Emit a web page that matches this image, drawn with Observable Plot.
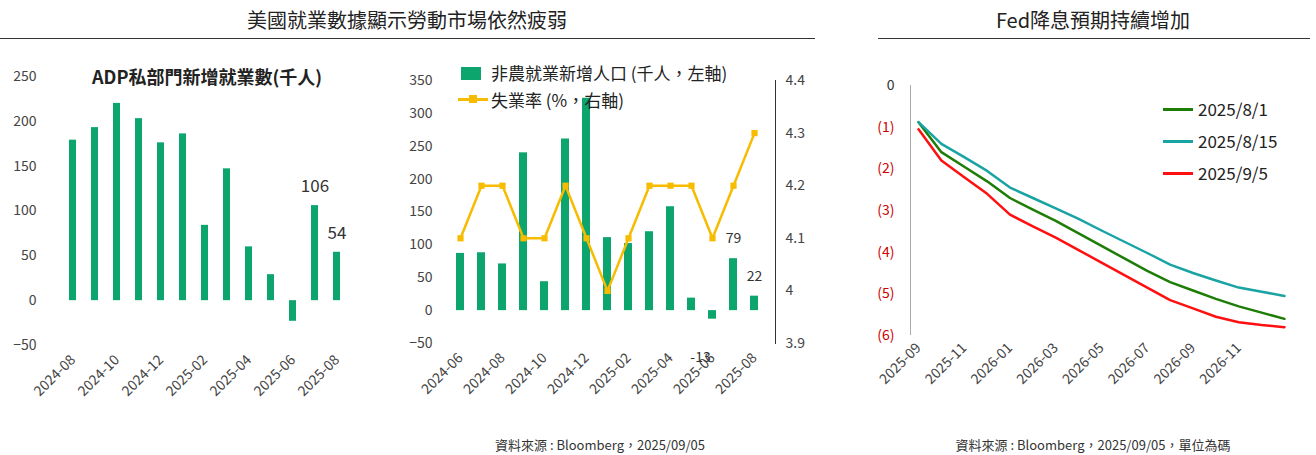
<!DOCTYPE html>
<html><head><meta charset="utf-8">
<script src="https://cdn.jsdelivr.net/npm/d3@7"></script>
<script src="https://cdn.jsdelivr.net/npm/@observablehq/plot@0.6"></script>
<style>
body{margin:0;width:1316px;height:455px;position:relative;background:#fff;font-family:"Noto Sans CJK TC","Noto Sans",sans-serif;overflow:hidden}
.abs{position:absolute}
.t{font-size:20px;color:#222;white-space:nowrap;transform:translateX(-50%)}
.hr{height:1px;background:#333}
.ft{font-size:13px;color:#333;white-space:nowrap;transform:translateX(-50%)}
.lg{font-size:17px;color:#222;white-space:nowrap}
svg text{font-family:"Noto Sans CJK TC","Noto Sans",sans-serif}
</style></head><body>
<script>
// ADP
const adpMonths=["2024-08","2024-09","2024-10","2024-11","2024-12","2025-01","2025-02","2025-03","2025-04","2025-05","2025-06","2025-07","2025-08"];
const adpValues=[179,193,220,203,176,186,84,147,60,29,-23,106,54];
// NFP
const nfpMonths=["2024-06","2024-07","2024-08","2024-09","2024-10","2024-11","2024-12","2025-01","2025-02","2025-03","2025-04","2025-05","2025-06","2025-07","2025-08"];
const nfpValues=[87,88,71,240,44,261,323,111,102,120,158,19,-13,79,22];
const unempRate=[4.1,4.2,4.2,4.1,4.1,4.2,4.1,4.0,4.1,4.2,4.2,4.2,4.1,4.2,4.3];
const rightTicks=[3.9,4.0,4.1,4.2,4.3,4.4];
// Fed expectations (cumulative cuts, months from 2025-09)
const fedMonthLabels=["2025-09","2025-10","2025-11","2025-12","2026-01","2026-02","2026-03","2026-04","2026-05","2026-06","2026-07","2026-08","2026-09","2026-10","2026-11","2026-12","2027-01"];
const fed0801=[-0.88,-1.6,-1.95,-2.3,-2.7,-2.98,-3.25,-3.55,-3.85,-4.15,-4.45,-4.72,-4.92,-5.12,-5.3,-5.45,-5.6];
const fed0815=[-0.88,-1.4,-1.72,-2.05,-2.45,-2.7,-2.95,-3.2,-3.48,-3.75,-4.02,-4.3,-4.5,-4.68,-4.85,-4.95,-5.05];
const fed0905=[-1.05,-1.8,-2.2,-2.6,-3.1,-3.38,-3.65,-3.95,-4.25,-4.55,-4.85,-5.15,-5.35,-5.55,-5.68,-5.75,-5.8];

const GREEN="#0ca56e", YEL="#f7bb00";
function place(el,l,t){el.style.position="absolute";el.style.left=l+"px";el.style.top=t+"px";document.body.appendChild(el);}
function div(cls,l,t,html,extra){const d=document.createElement("div");d.className="abs "+cls;d.style.left=l+"px";d.style.top=t+"px";d.innerHTML=html;if(extra)Object.assign(d.style,extra);document.body.appendChild(d);return d;}

// Chart 1
const adp=adpMonths.map((m,i)=>({m,v:adpValues[i]}));
const c1=Plot.plot({width:375,height:455,marginLeft:48,marginRight:13,marginTop:76,marginBottom:110,
 style:{fontSize:"14px",color:"#444"},
 x:{domain:adpMonths,padding:0.68,label:null,tickRotate:-45,tickSize:0,tickFormat:(d,i)=>i%2==0?d:"",tickPadding:12},
 y:{domain:[-50,250],ticks:[-50,0,50,100,150,200,250],label:null,tickSize:0,tickPadding:12},
 marks:[
  Plot.barY(adp,{x:"m",y:"v",fill:GREEN}),
  Plot.text(adp.filter(d=>d.m>="2025-07"),{x:"m",y:"v",text:d=>String(d.v),dy:-19,fontSize:17,fill:"#333"})
 ]});
place(c1,0,0);
div("lg",207,63,"ADP私部門新增就業數(千人)",{transform:"translateX(-50%)",fontWeight:"bold",fontSize:"18px"});

// Chart 2
const toL=u=>-50+(u-3.9)/0.5*400;
const nfp=nfpMonths.map((m,i)=>({m,v:nfpValues[i],u:unempRate[i]}));
const c2=Plot.plot({width:420,height:455,marginLeft:50,marginRight:35,marginTop:80,marginBottom:112,
 style:{fontSize:"14px",color:"#444"},
 x:{domain:nfpMonths,padding:0.6,label:null,tickRotate:-45,tickSize:0,tickFormat:(d,i)=>i%2==0?d:"",tickPadding:12},
 y:{domain:[-50,350],label:null},
 marks:[
  Plot.barY(nfp,{x:"m",y:"v",fill:GREEN}),
  Plot.line(nfp,{x:"m",y:d=>toL(d.u),stroke:YEL,strokeWidth:2.5}),
  Plot.dot(nfp,{x:"m",y:d=>toL(d.u),fill:YEL,symbol:"square",r:3.5}),
  Plot.text(nfp.filter(d=>d.m>="2025-07"),{x:"m",y:"v",text:d=>String(d.v),dy:-20,fontSize:14,fill:"#333"}),
  Plot.text(nfp.filter(d=>d.m=="2025-06"),{x:"m",y:"v",text:d=>String(d.v),dy:38,dx:-12,fontSize:14,fill:"#333"}),
  Plot.axisY(d3.range(-50,351,50),{anchor:"left",tickSize:0,tickPadding:8,label:null,fontSize:14}),
  Plot.axisY(rightTicks.map(toL),{anchor:"right",tickSize:0,tickPadding:10,tickFormat:(d,i)=>String(rightTicks[i]),label:null,fontSize:14,textAnchor:"start"}),
  Plot.frame({anchor:"right",stroke:"#333"})
 ]});
place(c2,390,0);
div("",461,67,"",{width:"20px",height:"13px",background:GREEN});
div("lg",491,60,"非農就業新增人口 (千人，左軸)");
div("",458,98,"",{width:"30px",height:"3px",background:YEL});
div("",469,95,"",{width:"8px",height:"8px",background:YEL});
div("lg",491,87,"失業率 (%，右軸)");

// Chart 3
const fed=[];
[["2025/8/1",fed0801],["2025/8/15",fed0815],["2025/9/5",fed0905]].forEach(([s,a])=>a.forEach((v,i)=>fed.push({s,i,v})));
const c3=Plot.plot({width:456,height:455,marginLeft:50,marginRight:16,marginTop:85,marginBottom:120,
 style:{fontSize:"14px",color:"#c00"},
 x:{domain:[-0.35,16.7],ticks:[0,2,4,6,8,10,12,14],tickFormat:i=>fedMonthLabels[i],tickRotate:-45,tickSize:0,tickPadding:10,label:null},
 y:{domain:[-6,0],ticks:[-6,-5,-4,-3,-2,-1,0],tickFormat:d=>d==0?"0":"("+(-d)+")",label:null,tickSize:0,tickPadding:16},
 color:{domain:["2025/8/1","2025/8/15","2025/9/5"],range:["#1d7d06","#1aa3a3","#ff1010"]},
 marks:[
  Plot.line(fed,{x:"i",y:"v",stroke:"s",strokeWidth:2.5}),
  Plot.ruleX([-0.35],{stroke:"#aaa"})
 ]});
place(c3,860,0);
c3.querySelectorAll('[aria-label="x-axis tick label"] text').forEach(t=>t.setAttribute("fill","#444"));
c3.querySelectorAll('[aria-label="y-axis tick label"] text').forEach(t=>{if(t.textContent=="0")t.setAttribute("fill","#333")});
[["2025/8/1","#1d7d06",96],["2025/8/15","#1aa3a3",128],["2025/9/5","#ff1010",160]].forEach(([s,c,t])=>{
 div("",1163,t+12,"",{width:"30px",height:"3px",background:c});div("lg",1198,t,s);
});

// Titles & footers
div("t",407,5,"美國就業數據顯示勞動市場依然疲弱");
div("hr",0,38,"",{width:"815px"});
div("t",1093,5,"Fed降息預期持續增加");
div("hr",878,38,"",{width:"432px"});
div("ft",600,435,"資料來源 : Bloomberg，2025/09/05");
div("ft",1093,435,"資料來源 : Bloomberg，2025/09/05，單位為碼");
</script>
</body></html>
